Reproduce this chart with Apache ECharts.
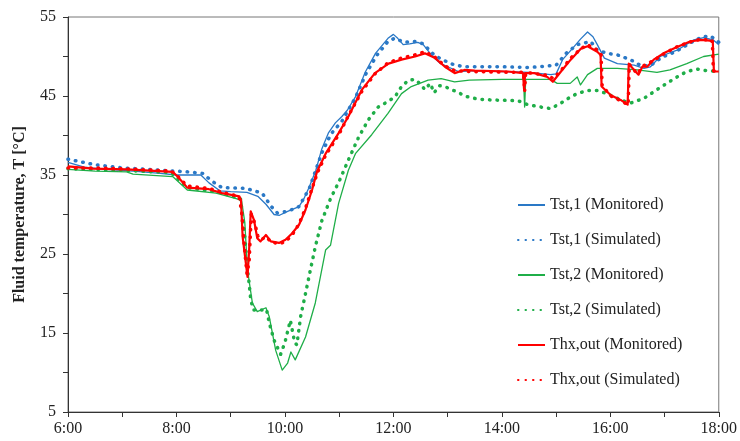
<!DOCTYPE html>
<html><head><meta charset="utf-8">
<script src="https://cdn.jsdelivr.net/npm/echarts@6/dist/echarts.min.js"></script>
<style>html,body{margin:0;padding:0;background:#fff}#c{width:740px;height:441px}</style>
</head><body><div id="c"></div>
<script>
const xTicks = [6, 8, 10, 12, 14, 16, 18];
const yTicks = [5, 15, 25, 35, 45, 55];
const seriesNames = ['Tst,1 (Monitored)', 'Tst,1 (Simulated)', 'Tst,2 (Monitored)', 'Tst,2 (Simulated)', 'Thx,out (Monitored)', 'Thx,out (Simulated)'];

const tst1Mon = [[6.0,36.6],[6.3,36.0],[6.7,35.7],[7.2,35.5],[7.7,35.2],[8.0,35.0],[8.45,35.0],[8.6,34.0],[8.8,33.0],[9.0,32.9],[9.3,32.8],[9.5,32.3],[9.65,31.3],[9.8,30.0],[9.9,29.9],[10.05,30.4],[10.26,31.0],[10.35,32.0],[10.45,33.5],[10.57,35.6],[10.68,38.3],[10.8,40.3],[10.93,41.6],[11.05,42.4],[11.15,43.2],[11.3,44.9],[11.48,48.0],[11.67,50.4],[11.9,52.3],[12.0,52.8],[12.08,52.3],[12.18,51.5],[12.3,51.6],[12.45,51.8],[12.55,51.5],[12.7,50.2],[12.85,49.2],[13.0,48.7],[13.2,48.1],[13.5,48.2],[14.0,48.1],[14.5,48.0],[14.9,47.7],[15.0,47.8],[15.12,49.6],[15.3,51.0],[15.45,52.2],[15.58,53.1],[15.68,52.5],[15.76,51.5],[15.89,49.8],[16.13,49.1],[16.44,48.9],[16.62,48.5],[16.74,48.7],[16.92,50.0],[17.23,50.8],[17.54,52.1],[17.72,52.4],[17.9,52.1],[18.0,51.5]];
const tst1Sim = [[6.0,37.0],[6.5,36.3],[7.0,35.9],[7.5,35.7],[8.2,35.4],[8.48,35.2],[8.66,34.2],[8.84,33.4],[9.28,33.3],[9.58,32.7],[9.75,31.0],[9.86,30.2],[10.05,30.4],[10.26,31.0],[10.45,33.3],[10.68,37.8],[10.85,40.2],[11.05,41.8],[11.3,44.8],[11.5,47.9],[11.7,50.2],[11.9,51.9],[12.02,52.3],[12.2,51.8],[12.4,51.9],[12.55,51.6],[12.75,50.2],[12.9,49.6],[13.1,49.0],[13.3,48.7],[14.0,48.7],[14.5,48.6],[15.0,48.9],[15.2,50.5],[15.39,51.5],[15.64,51.9],[15.76,50.8],[15.94,50.4],[16.13,50.2],[16.37,49.6],[16.55,48.9],[16.73,48.8],[16.95,49.9],[17.2,50.6],[17.5,51.8],[17.7,52.5],[17.85,52.6],[18.0,51.8]];
const tst2Mon = [[6.0,35.7],[6.5,35.5],[7.08,35.4],[7.2,35.1],[7.93,34.8],[8.2,33.1],[8.73,32.7],[9.1,32.0],[9.2,31.8],[9.26,29.0],[9.31,23.0],[9.4,18.8],[9.49,17.7],[9.65,18.2],[9.71,17.1],[9.83,12.8],[9.95,10.3],[10.05,11.2],[10.11,12.6],[10.19,11.6],[10.38,14.5],[10.56,18.8],[10.75,25.5],[10.84,26.1],[10.99,31.4],[11.17,35.6],[11.3,37.7],[11.6,40.1],[11.9,42.8],[12.15,45.3],[12.33,46.2],[12.64,47.0],[12.88,47.2],[13.13,46.8],[13.4,47.0],[14.0,47.1],[14.4,47.1],[14.42,43.6],[14.44,47.1],[14.9,47.1],[15.02,46.6],[15.26,46.6],[15.39,47.4],[15.45,46.4],[15.58,47.7],[15.76,48.5],[16.13,48.5],[16.5,48.3],[16.86,48.0],[17.1,48.3],[17.41,49.1],[17.72,50.0],[18.0,50.3]];
const tst2Sim = [[6.0,35.8],[6.5,35.7],[7.0,35.6],[7.9,35.3],[8.2,33.4],[8.8,32.8],[9.18,32.0],[9.25,28.0],[9.31,23.0],[9.34,21.3],[9.37,19.2],[9.42,17.9],[9.6,17.9],[9.66,18.0],[9.71,16.3],[9.8,14.1],[9.92,12.3],[10.0,13.8],[10.1,16.6],[10.18,13.8],[10.22,13.5],[10.29,17.1],[10.38,20.0],[10.47,23.0],[10.56,25.9],[10.68,29.2],[10.84,32.0],[11.0,34.2],[11.17,36.9],[11.36,39.8],[11.54,42.0],[11.72,43.6],[11.9,44.3],[12.03,44.9],[12.15,46.2],[12.28,47.0],[12.4,47.1],[12.5,46.5],[12.58,45.8],[12.68,46.6],[12.75,45.4],[12.85,46.3],[12.95,46.2],[13.07,45.8],[13.19,45.5],[13.31,45.0],[13.56,44.6],[13.8,44.5],[14.3,44.4],[14.48,43.9],[14.72,43.6],[14.9,43.4],[15.09,44.1],[15.27,44.9],[15.39,45.3],[15.58,45.7],[15.76,45.7],[15.94,45.3],[16.19,44.5],[16.37,44.1],[16.62,44.7],[16.86,45.8],[17.04,46.6],[17.23,47.4],[17.41,48.1],[17.6,48.4],[17.78,48.2],[18.0,48.1]];
const thxMon = [[6.0,36.1],[6.46,35.8],[7.08,35.7],[7.93,35.4],[8.02,34.8],[8.2,33.4],[8.6,33.2],[8.84,32.7],[9.16,32.3],[9.19,31.8],[9.22,27.2],[9.28,23.8],[9.31,22.1],[9.34,25.5],[9.37,30.4],[9.43,29.3],[9.49,27.0],[9.55,26.6],[9.65,27.4],[9.74,26.6],[9.89,26.4],[10.01,26.8],[10.13,27.6],[10.26,28.7],[10.38,30.6],[10.5,33.1],[10.59,35.4],[10.75,37.7],[10.99,40.3],[11.17,42.4],[11.42,45.8],[11.66,47.9],[11.91,49.1],[12.15,49.6],[12.4,50.0],[12.58,50.4],[12.77,49.8],[12.95,48.7],[13.13,47.9],[13.31,48.3],[13.5,48.2],[14.11,48.1],[14.39,47.9],[14.41,45.8],[14.43,47.9],[14.6,47.9],[14.84,47.4],[14.94,46.8],[15.09,48.1],[15.27,49.6],[15.46,51.0],[15.58,51.3],[15.76,50.6],[15.82,50.2],[15.84,46.2],[16.01,45.1],[16.19,44.5],[16.32,43.9],[16.34,49.1],[16.45,48.2],[16.52,47.7],[16.59,48.7],[16.68,48.7],[16.8,49.6],[16.98,50.4],[17.23,51.2],[17.47,51.9],[17.66,52.1],[17.84,52.0],[17.89,51.8],[17.91,48.1],[18.0,48.1]];
const thxSim = [[6.0,35.9],[6.5,35.9],[7.0,35.8],[7.9,35.5],[8.0,35.0],[8.2,33.6],[8.6,33.3],[8.85,32.8],[9.15,32.3],[9.2,30.5],[9.25,26.0],[9.3,22.5],[9.34,24.0],[9.38,30.0],[9.44,29.0],[9.5,27.3],[9.56,26.8],[9.65,27.2],[9.75,26.5],[9.9,26.3],[10.02,26.6],[10.15,27.6],[10.26,28.8],[10.38,30.8],[10.5,33.3],[10.6,35.3],[10.75,37.5],[11.0,40.2],[11.17,42.5],[11.42,45.6],[11.66,47.8],[11.9,49.2],[12.15,49.8],[12.4,50.2],[12.58,50.6],[12.77,49.9],[12.95,48.8],[13.13,48.2],[13.4,48.1],[14.1,48.0],[14.4,48.0],[14.42,45.6],[14.44,48.0],[14.85,47.6],[14.95,47.2],[15.1,48.3],[15.27,49.8],[15.46,51.0],[15.58,51.5],[15.76,50.8],[15.83,50.2],[15.85,46.3],[16.01,45.0],[16.19,44.4],[16.33,43.9],[16.35,49.0],[16.5,47.8],[16.6,48.8],[16.8,49.5],[17.0,50.4],[17.25,51.3],[17.5,51.9],[17.68,52.2],[17.88,52.0],[17.9,48.2],[18.0,48.0]];

const BLUE = '#2a78c6', GREEN = '#1fae48', RED = '#ff0000';
const FONT = 'Liberation Serif';
const dots = [0.5, 7];

function mk(name, data, color, width, dotted) {
  return {
    name, type: 'line', data, symbol: 'none', silent: true,
    lineStyle: { color, width, type: dotted ? dots : 'solid', cap: dotted ? 'round' : 'butt', join: 'round' },
    itemStyle: { color }
  };
}

const chart = echarts.init(document.getElementById('c'), null, { renderer: 'canvas' });
chart.setOption({
  animation: false,
  backgroundColor: '#fff',
  grid: { left: 68, right: 18, top: 17, bottom: 29, show: true, borderColor: '#777', borderWidth: 1 },
  legend: {
    orient: 'vertical', left: 512, top: 192, itemWidth: 27, itemHeight: 14, itemGap: 19,
    data: seriesNames,
    itemStyle: { opacity: 0, borderWidth: 0 },
    textStyle: { fontFamily: FONT, fontSize: 16, color: '#222' }
  },
  xAxis: {
    type: 'value', min: xTicks[0], max: xTicks[xTicks.length - 1], interval: 2,
    axisLine: { lineStyle: { color: '#333', width: 1 } },
    axisTick: { show: true, length: 5, lineStyle: { color: '#333' } },
    minorTick: { show: true, splitNumber: 2, length: 5, lineStyle: { color: '#333' } },
    splitLine: { show: false },
    axisLabel: { formatter: v => v + ':00', fontFamily: FONT, fontSize: 16, color: '#222', margin: 9 }
  },
  yAxis: {
    type: 'value', min: yTicks[0], max: yTicks[yTicks.length - 1], interval: 10,
    name: 'Fluid temperature, T [°C]', nameLocation: 'middle', nameGap: 40,
    nameTextStyle: { fontFamily: FONT, fontSize: 16, fontWeight: 'bold', color: '#222' },
    axisLine: { show: true, lineStyle: { color: '#333', width: 1 } },
    axisTick: { show: true, length: 5, lineStyle: { color: '#333' } },
    minorTick: { show: true, splitNumber: 2, length: 5, lineStyle: { color: '#333' } },
    splitLine: { show: false },
    axisLabel: { fontFamily: FONT, fontSize: 16, color: '#222', margin: 12 }
  },
  series: [
    mk(seriesNames[0], tst1Mon, BLUE, 1.3, false),
    mk(seriesNames[1], tst1Sim, BLUE, 3.5, true),
    mk(seriesNames[2], tst2Mon, GREEN, 1.3, false),
    mk(seriesNames[3], tst2Sim, GREEN, 3.5, true),
    mk(seriesNames[4], thxMon, RED, 2.2, false),
    mk(seriesNames[5], thxSim, RED, 3.5, true)
  ]
});
</script></body></html>
